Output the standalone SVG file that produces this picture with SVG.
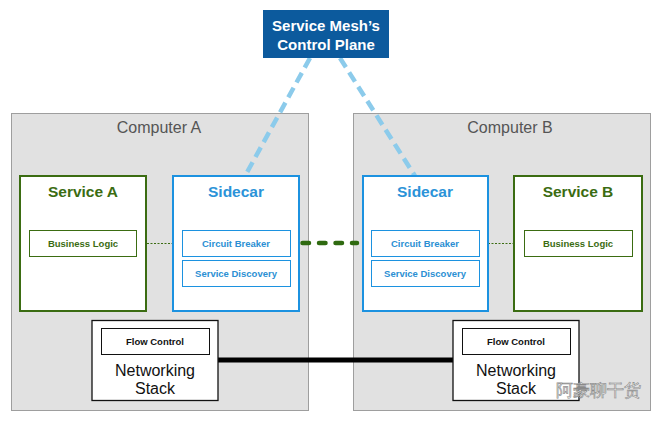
<svg xmlns="http://www.w3.org/2000/svg" width="661" height="421" viewBox="0 0 661 421">
<style>
text{font-family:"Liberation Sans",Arial,sans-serif;text-anchor:middle}
.comp{fill:#e1e1e1;stroke:#9e9e9e;stroke-width:1}
.clabel{font-size:16px;fill:#555}
.svc{fill:#fff;stroke:#3b6c12;stroke-width:2}
.svct{font-size:15.5px;font-weight:bold;fill:#3b6c12}
.side{fill:#fff;stroke:#1c92e0;stroke-width:2}
.sidet{font-size:15.5px;font-weight:bold;fill:#2b93d8}
.gin{fill:#fff;stroke:#3b6c12;stroke-width:1}
.gint{font-size:9.5px;font-weight:bold;fill:#3b6c12}
.bin{fill:#fff;stroke:#1c92e0;stroke-width:1}
.bint{font-size:9.5px;font-weight:bold;fill:#2b8fd3}
.net{fill:#fff;stroke:#111;stroke-width:1.3}
.fin{fill:#fff;stroke:#111;stroke-width:1}
.fint{font-size:9.5px;font-weight:bold;fill:#111}
.nett{font-size:16px;fill:#111}
</style>
<rect width="661" height="421" fill="#fff"/>
<g id="computerA"><rect class="comp" x="11.5" y="113.5" width="297" height="297"/><text class="clabel" x="159" y="133">Computer A</text></g>
<g id="computerB"><rect class="comp" x="353.5" y="113.5" width="297" height="297"/><text class="clabel" x="510" y="133">Computer B</text></g>
<g id="connectors">
<line x1="310" y1="58" x2="245" y2="176" stroke="#8ccbeb" stroke-width="4.5" stroke-dasharray="11 6"/>
<line x1="340" y1="58" x2="415" y2="176" stroke="#8ccbeb" stroke-width="4.5" stroke-dasharray="11 6"/>
<line x1="147" y1="243.5" x2="173" y2="243.5" stroke="#3b6c12" stroke-width="1" stroke-dasharray="2 1.5"/>
<line x1="488" y1="243.5" x2="514" y2="243.5" stroke="#3b6c12" stroke-width="1" stroke-dasharray="2 1.5"/>
<line x1="302.5" y1="243" x2="357" y2="243" stroke="#2f6a10" stroke-width="4.5" stroke-linecap="round" stroke-dasharray="6.5 10"/>
<line x1="218" y1="360" x2="453" y2="360" stroke="#000" stroke-width="5"/>
</g>
<g id="controlPlane"><rect x="263" y="10" width="126" height="48" fill="#0c5a9d"/><text x="326" y="31" font-size="15" font-weight="bold" fill="#fff">Service Mesh’s</text><text x="326" y="50" font-size="15" font-weight="bold" fill="#fff">Control Plane</text></g>
<g id="serviceA"><rect class="svc" x="20" y="176" width="126" height="135"/><text class="svct" x="83" y="197">Service A</text><rect class="gin" x="29.5" y="230.5" width="107" height="26"/><text class="gint" x="83" y="247">Business Logic</text></g>
<g id="sidecarA"><rect class="side" x="173" y="176" width="126" height="135"/><text class="sidet" x="236" y="197">Sidecar</text><rect class="bin" x="182.5" y="230.5" width="108" height="26"/><text class="bint" x="236" y="247">Circuit Breaker</text><rect class="bin" x="182.5" y="260.5" width="108" height="26"/><text class="bint" x="236" y="277">Service Discovery</text></g>
<g id="sidecarB"><rect class="side" x="363" y="176" width="125" height="135"/><text class="sidet" x="425" y="197">Sidecar</text><rect class="bin" x="371.5" y="230.5" width="108" height="26"/><text class="bint" x="425" y="247">Circuit Breaker</text><rect class="bin" x="371.5" y="260.5" width="108" height="26"/><text class="bint" x="425" y="277">Service Discovery</text></g>
<g id="serviceB"><rect class="svc" x="514" y="176" width="128" height="135"/><text class="svct" x="578" y="197">Service B</text><rect class="gin" x="524.5" y="230.5" width="108" height="26"/><text class="gint" x="578" y="247">Business Logic</text></g>
<g id="netA"><rect class="net" x="92" y="320.5" width="126" height="80"/><rect class="fin" x="101.5" y="328.5" width="108" height="26"/><text class="fint" x="155" y="345">Flow Control</text><text class="nett" x="155" y="376">Networking</text><text class="nett" x="155" y="394">Stack</text></g>
<g id="netB"><rect class="net" x="453" y="320.5" width="126" height="80"/><rect class="fin" x="462.5" y="328.5" width="108" height="26"/><text class="fint" x="516" y="345">Flow Control</text><text class="nett" x="516" y="376">Networking</text><text class="nett" x="516" y="394">Stack</text></g>
<g id="watermark"><text x="598" y="396" font-family="'Noto Sans CJK SC',sans-serif" font-size="17" fill="#f4f4f4" stroke="#8a8a8a" stroke-width="0.6">阿豪聊干货</text></g>
</svg>
